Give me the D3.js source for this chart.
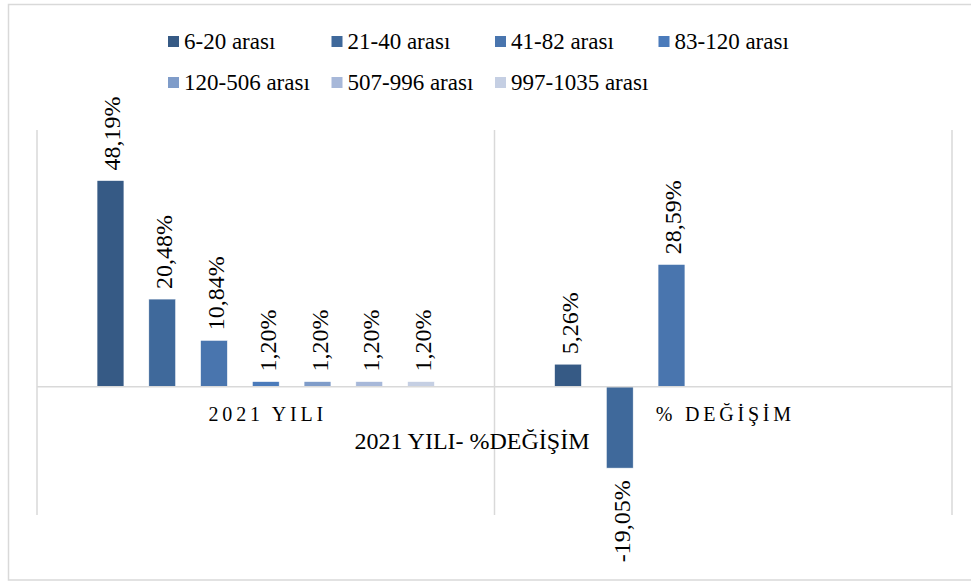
<!DOCTYPE html>
<html>
<head>
<meta charset="utf-8">
<script src="https://cdn.jsdelivr.net/npm/d3@7"></script>
<style>
  body { margin: 0; background: #fff; }
</style>
</head>
<body>
<svg id="chart" width="971" height="584"></svg>
<script>
// categories and series
var categories = ["2021 YILI", "% DEĞİŞİM"];
var seriesNames = ["6-20 arası", "21-40 arası", "41-82 arası", "83-120 arası", "120-506 arası", "507-996 arası", "997-1035 arası"];
var seriesColors = ["#365a85", "#3f699b", "#4975ae", "#4b7bbb", "#7f9cc9", "#a7b8d9", "#c5cfe3"];
// one array per category, value per series (null = no bar)
var yil2021 = [48.19, 20.48, 10.84, 1.20, 1.20, 1.20, 1.20];
var degisim = [5.26, -19.05, 28.59, null, null, null, null];
var allValues = [yil2021, degisim];
var yDomain = [-30, 60];

var serif = "'Liberation Serif', 'Times New Roman', serif";
var svg = d3.select("#chart");
var plotLeft = 37, plotRight = 952, plotTop = 130, plotBottom = 515;

// big serif text renders oddly here, so draw at 20px and scale up
function serifText(sel, size) {
  return sel.style("font-family", serif).style("font-size", "20px");
}
function place(x, y, size, rot) {
  return "translate(" + x + "," + y + ")" + (rot ? " rotate(" + rot + ")" : "") + " scale(" + (size / 20) + ")";
}

// outer frame
svg.append("rect")
  .attr("x", 8.5).attr("y", 4.5)
  .attr("width", 975).attr("height", 575.5)
  .attr("fill", "none")
  .attr("stroke", "#d9d9d9")
  .attr("stroke-width", 1.5);

var x0 = d3.scaleBand().domain(categories).range([plotLeft, plotRight]).padding(0);
var x1 = d3.scaleBand().domain(seriesNames).range([0, x0.bandwidth()])
  .paddingInner(0.48).paddingOuter(1.16);
var y = d3.scaleLinear().domain(yDomain).range([plotBottom, plotTop]);

// vertical gridlines at category edges
var edges = [plotLeft, x0(categories[1]), plotRight];
svg.selectAll("line.grid").data(edges).enter().append("line")
  .attr("class", "grid")
  .attr("x1", function(d){ return d; }).attr("x2", function(d){ return d; })
  .attr("y1", plotTop).attr("y2", plotBottom)
  .attr("stroke", "#d9d9d9").attr("stroke-width", 1.5);

// bars
var barData = [];
categories.forEach(function(c, ci){
  seriesNames.forEach(function(s, si){
    var v = allValues[ci][si];
    if (v !== null) barData.push({cat: c, ser: s, idx: si, value: v});
  });
});

svg.selectAll("rect.bar").data(barData).enter().append("rect")
  .attr("class", "bar")
  .attr("x", function(d){ return x0(d.cat) + x1(d.ser); })
  .attr("width", x1.bandwidth())
  .attr("y", function(d){ return y(Math.max(0, d.value)); })
  .attr("height", function(d){ return Math.abs(y(d.value) - y(0)); })
  .attr("fill", function(d){ return seriesColors[d.idx]; })
  .attr("stroke", "#ffffff").attr("stroke-width", 0.6);

// zero axis line
svg.append("line")
  .attr("x1", plotLeft).attr("x2", plotRight)
  .attr("y1", y(0)).attr("y2", y(0))
  .attr("stroke", "#d9d9d9").attr("stroke-width", 1.5);

// data labels, rotated
function fmt(v){ return v.toFixed(2).replace(".", ",") + "%"; }
serifText(svg.selectAll("text.lbl").data(barData).enter().append("text"))
  .attr("class", "lbl")
  .attr("transform", function(d){
    var cx = x0(d.cat) + x1(d.ser) + x1.bandwidth() / 2;
    var yy = d.value >= 0 ? y(d.value) - 10 : y(d.value) + 12;
    return place(cx + 10, yy, 24, -90);
  })
  .attr("text-anchor", function(d){ return d.value >= 0 ? "start" : "end"; })
  .text(function(d){ return fmt(d.value); });

// category labels
serifText(svg.selectAll("text.cat").data(categories).enter().append("text"))
  .attr("class", "cat")
  .attr("transform", function(d){ return place(x0(d) + x0.bandwidth() / 2 + 2, 421, 20); })
  .attr("text-anchor", "middle")
  .style("letter-spacing", "3.8px")
  .text(function(d){ return d; });

// axis title
serifText(svg.append("text"))
  .attr("transform", place(472, 449, 24))
  .attr("text-anchor", "middle")
  .text("2021 YILI- %DEĞİŞİM");

// legend
var legendPos = seriesNames.map(function(s, i){
  return {name: s, color: seriesColors[i], col: i % 4, row: Math.floor(i / 4)};
});
var lg = svg.selectAll("g.leg").data(legendPos).enter().append("g")
  .attr("class", "leg")
  .attr("transform", function(d){ return "translate(" + (168 + d.col * 163.5) + "," + (41.5 + d.row * 41) + ")"; });
lg.append("rect")
  .attr("x", 0).attr("y", -5.5).attr("width", 11).attr("height", 11)
  .attr("fill", function(d){ return d.color; });
serifText(lg.append("text"))
  .attr("transform", place(16, 7.5, 23))
  .text(function(d){ return d.name; });
</script>
</body>
</html>
